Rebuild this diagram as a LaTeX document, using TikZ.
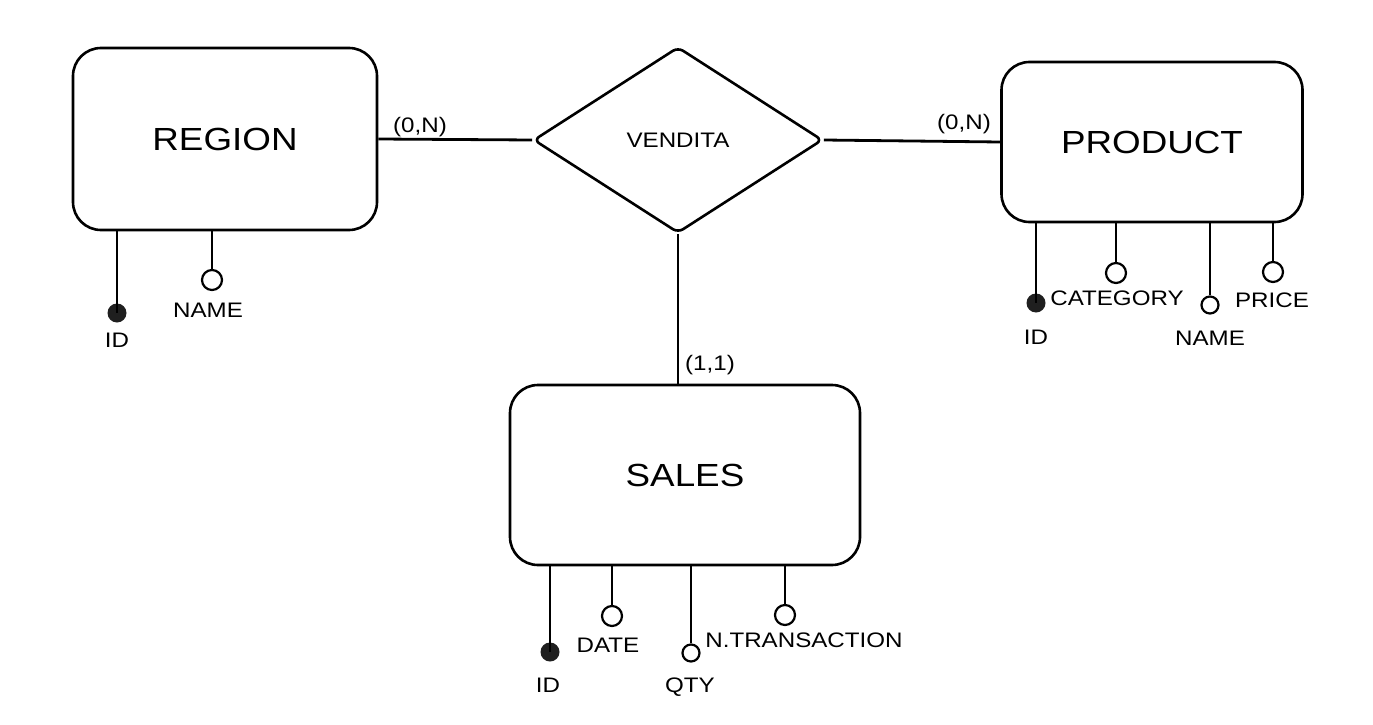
\documentclass[tikz,border=0pt]{standalone}
\usepackage{fontspec}
\setmainfont[FakeStretch=1.15]{Liberation Sans}
\usetikzlibrary{shapes.geometric}
\begin{document}
\begin{tikzpicture}[x=1pt,y=-1pt,
  entity/.style={draw, line width=2.6pt, rounded corners=28pt, inner sep=0pt, font=\fontsize{32}{38}\selectfont},
  rel/.style={draw, diamond, line width=2.6pt, rounded corners=6pt, inner sep=0pt, font=\fontsize{21}{25}\selectfont},
  attr/.style={draw, circle, line width=2.2pt, minimum size=20pt, inner sep=0pt, fill=white},
  keyattr/.style={circle, fill=black!88, minimum size=19pt, inner sep=0pt},
  lbl/.style={font=\fontsize{21}{25}\selectfont, inner sep=1pt},
  conn/.style={line width=2.8pt}]
\useasboundingbox[fill=white] (0,0) rectangle (1373,725);

% entities
\node[entity, minimum width=304pt, minimum height=182pt] (region) at (225,139) {REGION};
\node[entity, minimum width=301pt, minimum height=160pt] (product) at (1152,142) {PRODUCT};
\node[entity, minimum width=350pt, minimum height=180pt] (sales) at (685,475) {SALES};
\node[rel, minimum width=289pt, minimum height=186pt] (vendita) at (678,140) {VENDITA};

% relationships
\draw[conn] (region.east) -- (vendita.west);
\draw[conn] (vendita.east) -- (product.west);
\draw[conn] (vendita.south) -- (vendita.south |- sales.north);

\node[lbl] (c1) at (420,127) {(0,N)};
\node[lbl] (c2) at (964,124) {(0,N)};
\node[lbl] (c3) at (710,365) {(1,1)};

% region attributes
\node[keyattr] (rid) at (117,313) {};
\node[attr] (rname) at (212,280) {};
\draw[conn] (region.south -| rid) -- (rid.center);
\draw[conn] (region.south -| rname) -- (rname);
\node[lbl] (ridl) at (117,340) {ID};
\node[lbl] (rnamel) at (208,310) {NAME};

% product attributes
\node[keyattr] (pid) at (1036,303) {};
\node[attr] (pcat) at (1116,273) {};
\node[attr, minimum size=17pt] (pname) at (1210,305) {};
\node[attr] (pprice) at (1273,272) {};
\draw[conn] (product.south -| pid) -- (pid.center);
\draw[conn] (product.south -| pcat) -- (pcat);
\draw[conn] (product.south -| pname) -- (pname);
\draw[conn] (product.south -| pprice) -- (pprice);
\node[lbl] (pidl) at (1036,337) {ID};
\node[lbl] (pcatl) at (1117,298) {CATEGORY};
\node[lbl] (pnamel) at (1210,338) {NAME};
\node[lbl] (ppricel) at (1272,300) {PRICE};

% sales attributes
\node[keyattr] (sid) at (550,652) {};
\node[attr] (sdate) at (612,616) {};
\node[attr, minimum size=17pt] (sqty) at (691,653) {};
\node[attr] (strans) at (785,615) {};
\draw[conn] (sales.south -| sid) -- (sid.center);
\draw[conn] (sales.south -| sdate) -- (sdate);
\draw[conn] (sales.south -| sqty) -- (sqty);
\draw[conn] (sales.south -| strans) -- (strans);
\node[lbl] (sidl) at (548,685) {ID};
\node[lbl] (sdatel) at (608,645) {DATE};
\node[lbl] (sqtyl) at (690,687) {QTY};
\node[lbl] (stransl) at (804,640) {N.TRANSACTION};
\end{tikzpicture}
\end{document}
